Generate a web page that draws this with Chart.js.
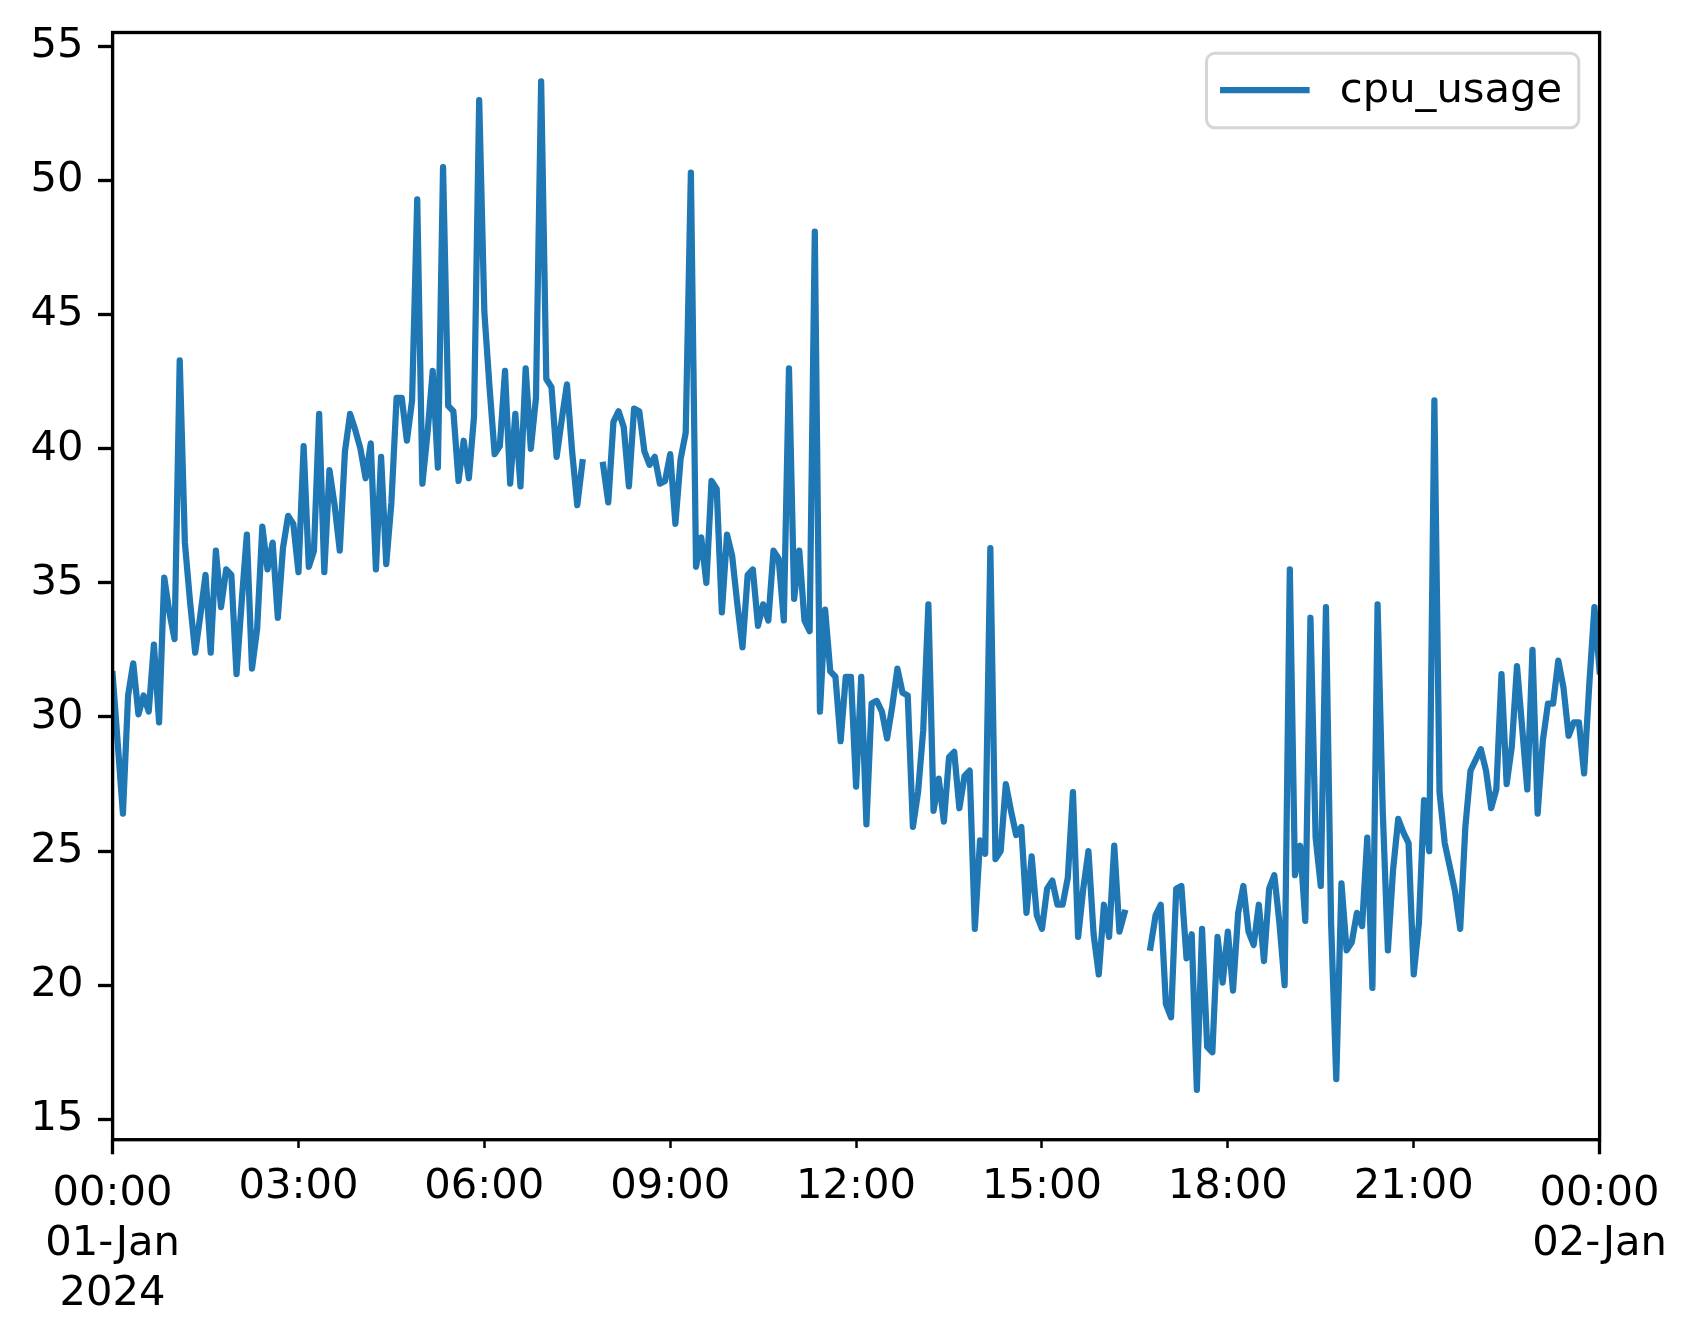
<!DOCTYPE html>
<html>
<head>
<meta charset="utf-8">
<script src="https://cdn.jsdelivr.net/npm/chart.js@4.4.1/dist/chart.umd.min.js"></script>
<style>
html,body{margin:0;padding:0;background:#fff;}
#wrap{width:1697px;height:1340px;position:relative;}
canvas{display:block;}
</style>
</head>
<body>
<div id="wrap"><canvas id="c" width="1697" height="1340"></canvas></div>
<script>
// ---- data ----
const seriesLabel = 'cpu_usage';
const stepMinutes = 5; // one reading every 5 minutes, 01-Jan-2024 00:00 .. 02-Jan 00:00
const cpuUsage = [
31.6,29.0,26.4,30.8,32.0,30.1,30.8,30.2,32.7,29.8,
35.2,33.9,32.9,43.3,36.5,34.3,32.4,33.8,35.3,32.4,
36.2,34.1,35.5,35.3,31.6,34.3,36.8,31.8,33.3,37.1,
35.5,36.5,33.7,36.3,37.5,37.2,35.4,40.1,35.6,36.2,
41.3,35.4,39.2,37.9,36.2,39.9,41.3,40.7,40.0,38.9,
40.2,35.5,39.7,35.7,38.0,41.9,41.9,40.3,41.8,49.3,
38.7,40.6,42.9,39.3,50.5,41.6,41.4,38.8,40.3,38.9,
41.2,53.0,45.1,42.3,39.8,40.1,42.9,38.7,41.3,38.6,
43.0,40.0,41.9,53.7,42.6,42.3,39.7,41.1,42.4,39.9,
37.9,39.5,null,null,null,39.4,38.0,41.0,41.4,40.8,
38.6,41.5,41.4,39.9,39.4,39.7,38.7,38.8,39.8,37.2,
39.6,40.6,50.3,35.6,36.7,35.0,38.8,38.5,33.9,36.8,
36.0,34.2,32.6,35.3,35.5,33.4,34.2,33.6,36.2,35.9,
33.6,43.0,34.4,36.2,33.6,33.2,48.1,30.2,34.0,31.7,
31.5,29.1,31.5,31.5,27.4,31.5,26.0,30.5,30.6,30.2,
29.2,30.4,31.8,30.9,30.8,25.9,27.2,29.5,34.2,26.5,
27.7,26.1,28.5,28.7,26.6,27.8,28.0,22.1,25.4,24.9,
36.3,24.7,25.0,27.5,26.5,25.6,25.9,22.7,24.8,22.6,
22.1,23.6,23.9,23.0,23.0,24.0,27.2,21.8,23.6,25.0,
21.9,20.4,23.0,21.8,25.2,22.0,22.7,null,null,null,
null,21.4,22.6,23.0,19.3,18.8,23.6,23.7,21.0,21.9,
16.1,22.1,17.7,17.5,21.8,20.1,22.0,19.8,22.7,23.7,
22.0,21.5,23.0,20.9,23.6,24.1,22.3,20.0,35.5,24.1,
25.2,22.4,33.7,25.5,23.7,34.1,22.3,16.5,23.8,21.3,
21.6,22.7,22.2,25.5,19.9,34.2,26.5,21.3,24.3,26.2,
25.7,25.3,20.4,22.3,26.9,25.0,41.8,27.2,25.3,24.4,
23.5,22.1,25.9,28.0,28.4,28.8,28.0,26.6,27.3,31.6,
27.5,28.9,31.9,29.6,27.3,32.5,26.4,29.1,30.5,30.5,
32.1,31.1,29.3,29.8,29.8,27.9,31.2,34.1,31.7
];
// minor ticks (minutes from start), labelled every 3 hours
const minorTickMinutes = [180,360,540,720,900,1080,1260];
const minorTickLabels = ['03:00','06:00','09:00','12:00','15:00','18:00','21:00'];
// major ticks: day starts
const majorTickMinutes = [0,1440];
const majorTickLabels = [['00:00','01-Jan','2024'],['00:00','02-Jan']];
const yTickValues = [15,20,25,30,35,40,45,50,55];
const xRange = [0,1440];
const yRange = [14.24,55.52];

// ---- styling (matplotlib @ 300 dpi) ----
const PT = 300/72;
const FS = 10*PT;
const FONT = 'DejaVu Sans';
const LEFT = 112.6, TOP = 32.5, RIGHT = 1599.6, BOTTOM = 1139.7;

const points = cpuUsage.map((v,i)=>({x:i*stepMinutes, y:v}));

const bgPlugin = {
  id:'bg',
  beforeDraw(chart){
    const c = chart.ctx;
    c.save(); c.fillStyle='#fff'; c.fillRect(0,0,chart.width,chart.height); c.restore();
  }
};
// the inner (minor) x axis has zero layout height; widen its label clip area after layout
const labelAreaPlugin = {
  id:'labelArea',
  afterLayout(chart){
    const s = chart.scales.x;
    s.bottom = chart.height;
    s.height = s.bottom - s.top;
  }
};
const framePlugin = {
  id:'frame',
  afterDatasetsDraw(chart){
    const {ctx:c, chartArea:a} = chart;
    c.save();
    c.strokeStyle='#000'; c.lineWidth=0.8*PT; c.lineJoin='miter'; c.lineCap='square';
    c.strokeRect(a.left,a.top,a.right-a.left,a.bottom-a.top);
    c.restore();
  }
};
const legendPlugin = {
  id:'mplLegend',
  afterDraw(chart){
    const {ctx:c, chartArea:a} = chart;
    const ds = chart.data.datasets[0];
    c.save();
    c.font = FS+'px "'+FONT+'"';
    const tw = c.measureText(ds.label).width;
    const w = (0.4+2+0.8+0.4)*FS + tw;
    const h = 74.5;
    const x = a.right - 0.5*FS - w;
    const y = a.top + 0.5*FS;
    c.beginPath();
    c.roundRect(x,y,w,h,0.2*FS);
    c.fillStyle='rgba(255,255,255,0.8)'; c.fill();
    c.lineWidth=3; c.strokeStyle='rgba(204,204,204,0.8)'; c.stroke();
    const cy = y + h/2 - 0.5;
    c.beginPath();
    c.moveTo(x+0.4*FS, cy); c.lineTo(x+2.4*FS, cy);
    c.strokeStyle=ds.borderColor; c.lineWidth=ds.borderWidth; c.lineCap='square'; c.stroke();
    c.fillStyle='#000'; c.textBaseline='middle'; c.textAlign='left';
    c.fillText(ds.label, x+3.2*FS, cy + 1);
    c.restore();
  }
};

const tickFont = {family:FONT, size:FS, lineHeight:1.2};

new Chart(document.getElementById('c').getContext('2d'), {
  type:'line',
  data:{datasets:[{
    label:seriesLabel, data:points,
    borderColor:'#1f77b4', borderWidth:1.5*PT,
    pointRadius:0, pointHoverRadius:0, tension:0, spanGaps:false, fill:false,
    borderCapStyle:'square', borderJoinStyle:'round', clip:0,
    xAxisID:'x', yAxisID:'y'
  }]},
  options:{
    responsive:false, animation:false, devicePixelRatio:1,
    events:[],
    layout:{padding:{left:0, top:TOP, right:1697-RIGHT, bottom:0}},
    plugins:{legend:{display:false}, tooltip:{enabled:false}},
    scales:{
      x:{
        type:'linear', position:'bottom', weight:0, min:xRange[0], max:xRange[1],
        afterBuildTicks(s){ s.ticks = minorTickMinutes.map(v=>({value:v})); },
        afterFit(s){ s.height = 0; s.paddingLeft=0; s.paddingRight=0; s.paddingTop=0; s.paddingBottom=0; },
        ticks:{autoSkip:false, maxRotation:0, minRotation:0, padding:3.4*PT, color:'#000', font:tickFont,
               callback:(v)=>minorTickLabels[minorTickMinutes.indexOf(v)]},
        grid:{drawOnChartArea:false, drawTicks:true, tickLength:2*PT, tickWidth:0.6*PT, tickColor:'#000'},
        border:{display:false}
      },
      x2:{
        type:'linear', position:'bottom', weight:1, min:xRange[0], max:xRange[1],
        afterBuildTicks(s){ s.ticks = majorTickMinutes.map(v=>({value:v})); },
        afterFit(s){ s.height = 1340-BOTTOM; s.paddingLeft=0; s.paddingRight=0; s.paddingTop=0; s.paddingBottom=0; },
        ticks:{autoSkip:false, maxRotation:0, minRotation:0, padding:3.5*PT, color:'#000', font:tickFont,
               callback:(v)=>majorTickLabels[majorTickMinutes.indexOf(v)]},
        grid:{drawOnChartArea:false, drawTicks:true, tickLength:3.5*PT, tickWidth:0.8*PT, tickColor:'#000'},
        border:{display:false}
      },
      y:{
        type:'linear', position:'left', min:yRange[0], max:yRange[1],
        afterBuildTicks(s){ s.ticks = yTickValues.map(v=>({value:v})); },
        afterFit(s){ s.width = LEFT; s.paddingTop=0; s.paddingBottom=0; s.paddingLeft=0; s.paddingRight=0; },
        ticks:{padding:3.5*PT, color:'#000', font:tickFont, callback:(v)=>String(v)},
        grid:{drawOnChartArea:false, drawTicks:true, tickLength:3.5*PT, tickWidth:0.8*PT, tickColor:'#000'},
        border:{display:false}
      }
    }
  },
  plugins:[bgPlugin, labelAreaPlugin, framePlugin, legendPlugin]
});
</script>
</body>
</html>
